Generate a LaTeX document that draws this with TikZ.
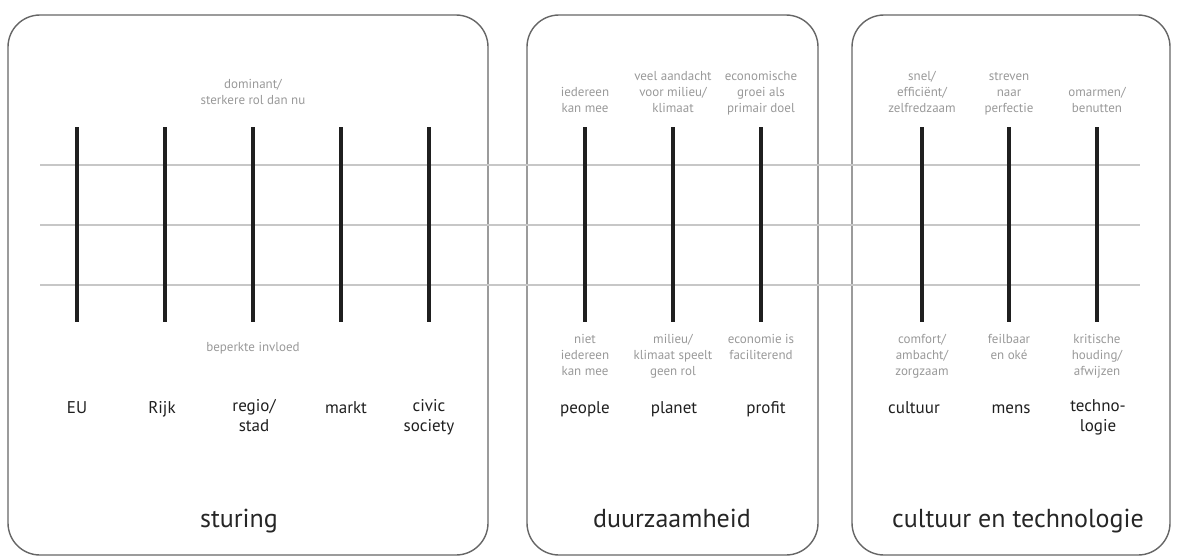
\documentclass[tikz,border=0pt]{standalone}
\usepackage{fontspec}
\setmainfont{PT Sans}
\usetikzlibrary{positioning}

\tikzset{
    panel/.style={draw=black!60, line width=0.7pt, rounded corners=16pt},
    scaleline/.style={draw=black!22, line width=0.6pt},
    bar/.style={draw=black!88, line width=1.6pt},
    pole/.style={font=\fontsize{6.5}{8}\selectfont, text=black!40, align=center, inner sep=1pt,
        execute at begin node=\strut, execute at end node=\strut},
    axis/.style={font=\fontsize{8.5}{10}\selectfont, text=black!88, align=center, inner sep=1pt,
        anchor=north, execute at begin node=\strut},
    theme/.style={font=\fontsize{13}{15}\selectfont, text=black!85, inner sep=1pt, anchor=base}
}

\begin{document}
\begin{tikzpicture}[x=0.5pt, y=-0.5pt]
    \useasboundingbox (0,0) rectangle (1177,558);

    % Panels
    \draw[panel] (8,15) rectangle (488,555);
    \draw[panel] (527,15) rectangle (818,555);
    \draw[panel] (852,15) rectangle (1170,555);

    % Horizontal scale lines
    \foreach \y [count=\j] in {165,225,285} {
        \coordinate (l\j) at (40,\y);
        \coordinate (r\j) at (1140,\y);
        \draw[scaleline] (l\j) -- (r\j);
    }

    % Vertical bars (one per axis)
    \foreach \x [count=\i] in {77,165,253,341,429,585,673,761,922,1009,1097} {
        \coordinate (top\i) at (\x,127);
        \coordinate (bot\i) at (\x,322);
        \draw[bar] (top\i) -- (bot\i);
    }

    % Top poles
    \node[pole, above=7.6pt of top3] (hi3) {dominant/\\sterkere rol dan nu};
    \node[pole, above=3.6pt of top6] (hi6) {iedereen\\kan mee};
    \node[pole, above=3.6pt of top7] (hi7) {veel aandacht\\voor milieu/\\klimaat};
    \node[pole, above=3.6pt of top8] (hi8) {economische\\groei als\\primair doel};
    \node[pole, above=3.6pt of top9] (hi9) {snel/\\efficiënt/\\zelfredzaam};
    \node[pole, above=3.6pt of top10] (hi10) {streven\\naar\\perfectie};
    \node[pole, above=3.6pt of top11] (hi11) {omarmen/\\benutten};

    % Bottom poles
    \node[pole, below=8pt of bot3] (lo3) {beperkte invloed};
    \node[pole, below=5pt of bot6] (lo6) {niet\\iedereen\\kan mee};
    \node[pole, below=5pt of bot7] (lo7) {milieu/\\klimaat speelt\\geen rol};
    \node[pole, below=5pt of bot8] (lo8) {economie is\\faciliterend};
    \node[pole, below=5pt of bot9] (lo9) {comfort/\\ambacht/\\zorgzaam};
    \node[pole, below=5pt of bot10] (lo10) {feilbaar\\en oké};
    \node[pole, below=5pt of bot11] (lo11) {kritische\\houding/\\afwijzen};

    % Axis names
    \node[axis] (eu) at (77,397) {EU};
    \node[axis] (rijk) at (162,397) {Rijk};
    \node[axis] (regio) at (254,397) {regio/\\stad};
    \node[axis] (markt) at (346,397) {markt};
    \node[axis] (civic) at (429,397) {civic\\society};
    \node[axis] (people) at (585,397) {people};
    \node[axis] (planet) at (674,397) {planet};
    \node[axis] (profit) at (766,397) {profit};
    \node[axis] (cultuur) at (914,397) {cultuur};
    \node[axis] (mens) at (1011,397) {mens};
    \node[axis] (techno) at (1098,397) {techno-\\logie};

    % Themes
    \node[theme] (sturing) at (239,527) {sturing};
    \node[theme] (duurzaam) at (672,527) {duurzaamheid};
    \node[theme] (cultech) at (1018,527) {cultuur en technologie};
\end{tikzpicture}
\end{document}
